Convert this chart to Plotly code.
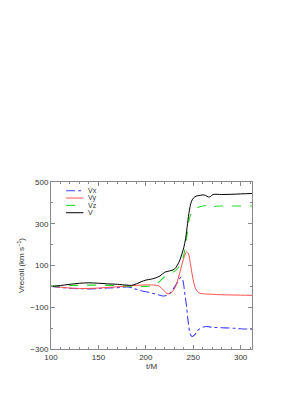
import plotly.graph_objects as go

t_v = [100,110,120,130,140,150,160,170,180,185,190,195,200,205,210,215,220,225,230,233,236,238,240,242,244,246,248,250,253,256,260,263,266,268,271,280,290,300,312]
v_v = [0,4,10,15,17,15,12,10,6,5,12,22,30,34,40,50,68,74,82,100,127,155,185,230,300,365,405,422,432,435,438,436,428,430,440,440,441,443,445]

t_z = [100,110,120,130,140,150,160,170,180,190,200,205,210,215,220,225,230,234,237,240,242,244,246,248,251,255,260,265,268,272,280,300,312]
v_z = [0,2,4,5,6,6,5,4,2,0,0,2,8,25,48,60,72,88,110,150,200,265,325,350,365,378,385,385,375,383,385,385,385]

t_y = [100,110,120,130,140,150,160,170,180,190,200,210,214,218,222,225,228,231,234,237,240,243,245,247,249,251,253,256,260,270,280,300,312]
v_y = [0,-4,-8,-10,-10,-8,-5,-2,0,5,7,6,2,-15,-33,-35,-25,-5,35,85,135,165,155,110,55,10,-15,-30,-35,-38,-40,-42,-43]

t_x = [100,110,120,130,140,150,160,170,180,185,190,200,208,213,218,222,226,230,234,237,239,241,243,245,247,249,252,255,259,264,270,280,290,300,312]
v_x = [0,-5,-9,-11,-12,-10,-8,-6,-3,-6,-14,-26,-34,-40,-46,-44,-30,-5,24,44,30,-30,-97,-180,-230,-240,-230,-210,-198,-192,-196,-198,-200,-203,-205]

names = ["Vx", "Vy", "Vz", "V"]
colors = ["#4040ff", "#ff5050", "#22dd22", "#000000"]
dashes = ["dashdot", "solid", "dash", "solid"]
widths = [1.1, 1.0, 1.1, 1.0]
series = [(t_x, v_x), (t_y, v_y), (t_z, v_z), (t_v, v_v)]

fig = go.Figure()
for (tx, vy), nm, c, d, w in zip(series, names, colors, dashes, widths):
    fig.add_trace(go.Scatter(x=tx, y=vy, name=nm, mode="lines",
                             line=dict(color=c, width=w, dash=d, shape="spline")))

# compact legend drawn in paper coordinates
leg_y = [0.948, 0.904, 0.860, 0.816]
for nm, c, d, w, yy in zip(names, colors, dashes, widths, leg_y):
    fig.add_shape(type="line", xref="paper", yref="paper", x0=0.075, x1=0.161, y0=yy, y1=yy,
                  line=dict(color=c, width=w, dash=d))
    fig.add_annotation(xref="paper", yref="paper", x=0.172, y=yy, text=nm, showarrow=False,
                       xanchor="left", yanchor="middle", font=dict(size=7, color="#333333"))

axis_common = dict(
    showline=True, linecolor="#888888", linewidth=1, mirror="allticks",
    ticks="inside", ticklen=4, tickcolor="#888888", showgrid=False, zeroline=False,
    tickfont=dict(size=8, color="#333333"),
)
fig.update_xaxes(range=[100, 312], tick0=100, dtick=50,
                 minor=dict(dtick=10, ticks="inside", ticklen=2, tickcolor="#888888"),
                 title=dict(text="t/M", font=dict(size=8, color="#333333"), standoff=2),
                 **axis_common)
fig.update_yaxes(range=[-300, 500], tick0=-300, dtick=200,
                 minor=dict(dtick=100, ticks="inside", ticklen=2, tickcolor="#888888"),
                 title=dict(text="Vrecoil (km s<sup>−1</sup>)", font=dict(size=8, color="#333333"), standoff=4),
                 **axis_common)
fig.update_layout(
    width=305, height=394,
    margin=dict(l=43, r=61, t=174, b=53),
    paper_bgcolor="white", plot_bgcolor="white",
    font=dict(family="Liberation Sans, Arial, sans-serif", size=8, color="#333333"),
    showlegend=False,
)
fig.write_html("out.html")
